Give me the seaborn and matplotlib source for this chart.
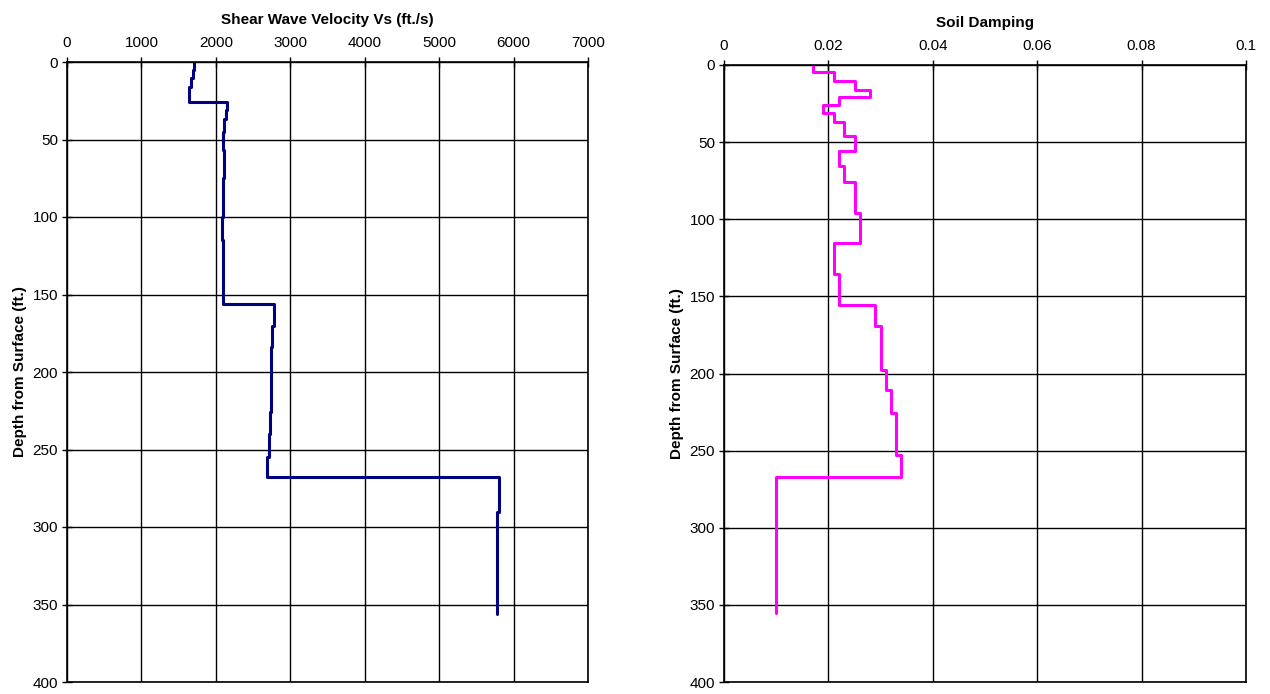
import matplotlib
matplotlib.use("Agg")
import matplotlib.pyplot as plt
from matplotlib import font_manager
import seaborn as sns
import pandas as pd

# ---- data: layer top depths (ft) and values; last entry is profile bottom ----
vs_layer_tops = [0, 5, 10, 16, 26, 31, 37, 45, 57, 75, 91, 100, 115, 156, 170,
                 184, 213, 226, 240, 255, 268, 290]
vs_values = [1710, 1690, 1665, 1640, 2145, 2130, 2115, 2095, 2110, 2100, 2090,
             2078, 2100, 2775, 2755, 2745, 2735, 2722, 2710, 2690, 5800, 5780]
vs_bottom = 356

damp_layer_tops = [0, 4.3, 10.6, 16, 20.7, 25.9, 31, 36.7, 46, 56, 65.5, 75.9,
                   95.7, 115.7, 135.7, 155.8, 169, 197.8, 211, 225.6, 253, 267.4]
damp_values = [0.017, 0.021, 0.025, 0.028, 0.022, 0.019, 0.021, 0.023, 0.025,
               0.022, 0.023, 0.025, 0.026, 0.021, 0.022, 0.029, 0.030, 0.031,
               0.032, 0.033, 0.034, 0.010]
damp_bottom = 355

vs_ticks = [0, 1000, 2000, 3000, 4000, 5000, 6000, 7000]
damp_ticks = [0, 0.02, 0.04, 0.06, 0.08, 0.1]
damp_tick_labels = ["0", "0.02", "0.04", "0.06", "0.08", "0.1"]
depth_ticks = [0, 50, 100, 150, 200, 250, 300, 350, 400]


def step_frame(tops, vals, bottom):
    bots = list(tops[1:]) + [bottom]
    xs, ys = [], []
    for t, b, v in zip(tops, bots, vals):
        xs += [v, v]
        ys += [t, b]
    return pd.DataFrame({"x": xs, "depth": ys})


sns.set_theme(style="white")
names = {f.name for f in font_manager.fontManager.ttflist}
if "Liberation Sans Narrow" in names:
    fam, fs = "Liberation Sans Narrow", 11.5
else:
    fam, fs = "Liberation Sans", 11
plt.rcParams["font.family"] = [fam, "DejaVu Sans"]
plt.rcParams["text.color"] = "black"
plt.rcParams["axes.labelcolor"] = "black"
plt.rcParams["xtick.color"] = "black"
plt.rcParams["ytick.color"] = "black"

fig = plt.figure(figsize=(12.7, 6.94), dpi=100)
W, H = 1270, 694
ax1 = fig.add_axes([67 / W, 1 - 682 / H, 521 / W, 620 / H])
ax2 = fig.add_axes([724 / W, 1 - 682 / H, 522 / W, 617 / H])

df_vs = step_frame(vs_layer_tops, vs_values, vs_bottom)
df_d = step_frame(damp_layer_tops, damp_values, damp_bottom)

sns.lineplot(data=df_vs, x="x", y="depth", sort=False, estimator=None,
             color="#000080", linewidth=2.2, ax=ax1)
sns.lineplot(data=df_d, x="x", y="depth", sort=False, estimator=None,
             color="#FF00FF", linewidth=2.2, ax=ax2)

setups = [
    (ax1, vs_ticks, [str(t) for t in vs_ticks], (0, 7000),
     "Shear Wave Velocity Vs (ft./s)"),
    (ax2, damp_ticks, damp_tick_labels, (0, 0.1), "Soil Damping"),
]
for ax, xt, xtl, xl, title in setups:
    ax.set_xlim(*xl)
    ax.set_ylim(400, 0)
    ax.set_xticks(xt)
    ax.set_xticklabels(xtl)
    ax.set_yticks(depth_ticks)
    ax.xaxis.tick_top()
    ax.xaxis.set_label_position("top")
    ax.set_xlabel(title, fontsize=fs, fontweight="bold", labelpad=9,
                  color="black")
    ax.set_ylabel("Depth from Surface (ft.)", fontsize=fs, fontweight="bold",
                  labelpad=4, color="black")
    ax.grid(True, color="black", linewidth=1.0)
    ax.set_axisbelow(True)
    for s in ax.spines.values():
        s.set_visible(True)
        s.set_color("black")
        s.set_linewidth(1.2)
    ax.tick_params(axis="both", which="major", labelsize=fs, colors="black",
                   labelcolor="black", direction="inout", length=7, width=1,
                   pad=3)
    ax.tick_params(axis="x", top=True, bottom=False, pad=5)
    ax.tick_params(axis="y", left=True)
    ax.set_facecolor("white")

fig.savefig("out.png", dpi=100, facecolor="white")
